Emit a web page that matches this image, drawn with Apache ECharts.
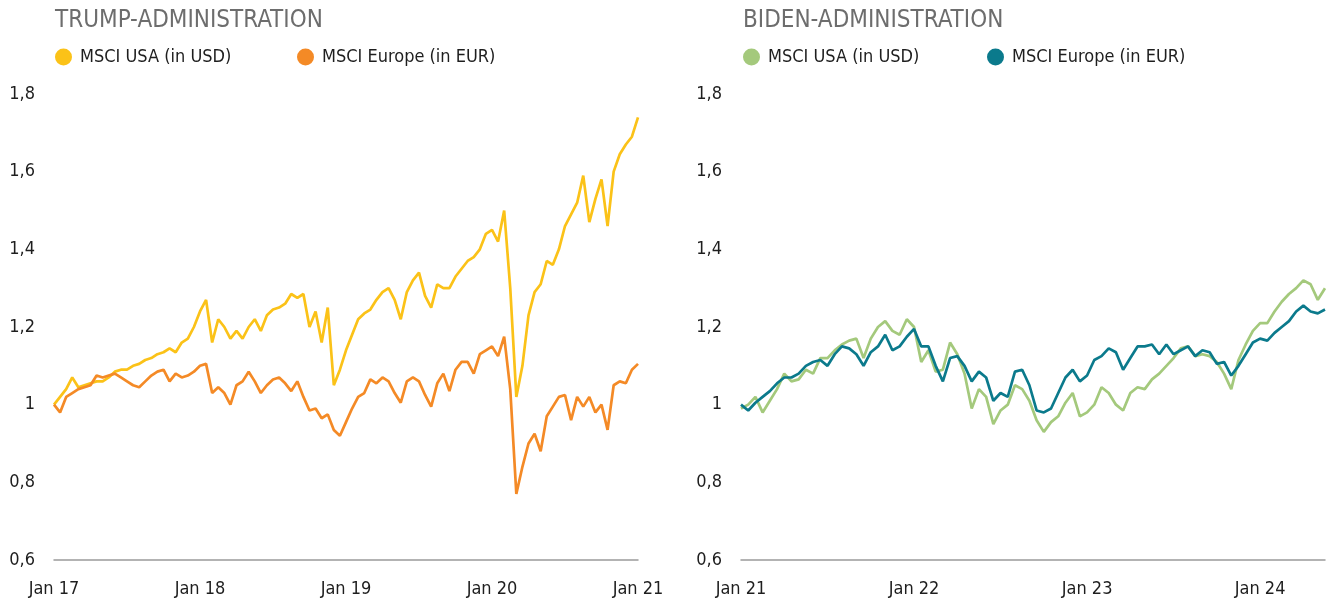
<!DOCTYPE html>
<html>
<head>
<meta charset="utf-8">
<script src="https://cdn.jsdelivr.net/npm/echarts@6/dist/echarts.min.js"></script>
<style>
  html, body { margin: 0; padding: 0; background: #fff; }
  #main { width: 1328px; height: 599px; }
</style>
</head>
<body>
<div id="main"></div>
<script>
// two values per month (semi-monthly), index 0 = January of start year
const trumpStart = 2017;
const trumpUsa = [
  1.00, 1.02, 1.04, 1.07, 1.045, 1.05, 1.055, 1.06, 1.06, 1.07, 1.085, 1.09,
  1.09, 1.10, 1.105, 1.115, 1.12, 1.13, 1.135, 1.145, 1.135, 1.16, 1.17, 1.20,
  1.24, 1.27, 1.16, 1.22, 1.20, 1.17, 1.19, 1.17, 1.20, 1.22, 1.19, 1.23,
  1.245, 1.25, 1.26, 1.285, 1.275, 1.285, 1.20, 1.24, 1.16, 1.25, 1.05, 1.09,
  1.14, 1.18, 1.22, 1.235, 1.245, 1.27, 1.29, 1.30, 1.27, 1.22, 1.29, 1.32,
  1.34, 1.28, 1.25, 1.31, 1.30, 1.30, 1.33, 1.35, 1.37, 1.38, 1.40, 1.44,
  1.45, 1.42, 1.50, 1.30, 1.02, 1.10, 1.23, 1.29, 1.31, 1.37, 1.36, 1.40,
  1.46, 1.49, 1.52, 1.59, 1.47, 1.53, 1.58, 1.46, 1.60, 1.645, 1.67, 1.69,
  1.74
];
const trumpEurope = [
  1.00, 0.98, 1.02, 1.03, 1.04, 1.045, 1.05, 1.075, 1.07, 1.075, 1.08, 1.07,
  1.06, 1.05, 1.045, 1.06, 1.075, 1.085, 1.09, 1.06, 1.08, 1.07, 1.075, 1.085,
  1.10, 1.105, 1.03, 1.045, 1.03, 1.00, 1.05, 1.06, 1.085, 1.06, 1.03, 1.05,
  1.065, 1.07, 1.055, 1.035, 1.06, 1.02, 0.985, 0.99, 0.965, 0.975, 0.935, 0.92,
  0.955, 0.99, 1.02, 1.03, 1.065, 1.055, 1.07, 1.06, 1.03, 1.005, 1.06, 1.07,
  1.06, 1.025, 0.995, 1.055, 1.08, 1.035, 1.09, 1.11, 1.11, 1.08, 1.13, 1.14,
  1.15, 1.125, 1.175, 1.04, 0.77, 0.84, 0.90, 0.925, 0.88, 0.97, 0.995, 1.02,
  1.025, 0.96, 1.02, 0.995, 1.02, 0.98, 1.00, 0.935, 1.05, 1.06, 1.055, 1.09,
  1.105
];
const bidenStart = 2021;
const bidenUsa = [
  0.99, 1.00, 1.02, 0.98, 1.01, 1.04, 1.08, 1.06, 1.065, 1.09, 1.08, 1.12,
  1.12, 1.14, 1.155, 1.165, 1.17, 1.12, 1.17, 1.20, 1.215, 1.19, 1.18, 1.22,
  1.20, 1.11, 1.14, 1.085, 1.09, 1.16, 1.13, 1.08, 0.99, 1.04, 1.02, 0.95,
  0.985, 1.00, 1.05, 1.04, 1.01, 0.96, 0.93, 0.955, 0.97, 1.005, 1.03, 0.97,
  0.98, 1.00, 1.045, 1.03, 1.00, 0.985, 1.03, 1.045, 1.04, 1.065, 1.08, 1.10,
  1.12, 1.145, 1.15, 1.125, 1.13, 1.125, 1.11, 1.08, 1.04, 1.115, 1.155, 1.19,
  1.21, 1.21, 1.24, 1.265, 1.285, 1.30, 1.32, 1.31, 1.27, 1.30
];
const bidenEurope = [
  1.00, 0.985, 1.005, 1.02, 1.035, 1.055, 1.07, 1.07, 1.08, 1.10, 1.11, 1.115,
  1.10, 1.13, 1.15, 1.145, 1.13, 1.10, 1.135, 1.15, 1.18, 1.14, 1.15, 1.175,
  1.195, 1.15, 1.15, 1.10, 1.06, 1.12, 1.125, 1.10, 1.06, 1.085, 1.07, 1.01,
  1.03, 1.02, 1.085, 1.09, 1.05, 0.985, 0.98, 0.99, 1.03, 1.07, 1.09, 1.06,
  1.075, 1.115, 1.125, 1.145, 1.135, 1.09, 1.12, 1.15, 1.15, 1.155, 1.13, 1.155,
  1.13, 1.14, 1.15, 1.125, 1.14, 1.135, 1.105, 1.11, 1.075, 1.10, 1.13, 1.16,
  1.17, 1.165, 1.185, 1.20, 1.215, 1.24, 1.255, 1.24, 1.235, 1.245
];
const yMin = 0.6, yMax = 1.8, yStep = 0.2;

const FONT = '"DejaVu Sans Condensed", "Liberation Sans Narrow", sans-serif';
const TEXT = '#1e1e1e';

function toPairs(start, arr) {
  return arr.map(function (v, i) { return [start + i / 24, v]; });
}
function yLabel(v) {
  let r = Math.round(v * 10) / 10;
  return r === 1 ? '1' : r.toFixed(1).replace('.', ',');
}
function xLabel(v) {
  return Number.isInteger(v) ? 'Jan ' + String(v).slice(2) : '';
}
function legendItem(name, label, left) {
  return {
    data: [name], left: left, top: 48, padding: 0, icon: 'circle',
    itemWidth: 17, itemHeight: 17, selectedMode: false,
    formatter: function () { return label; },
    textStyle: { fontFamily: FONT, fontSize: 18, color: TEXT, padding: [0, 0, 0, 3] }
  };
}
function xAxisOf(idx, min, max) {
  return {
    type: 'value', gridIndex: idx, min: min, max: max, interval: 1,
    axisLine: { show: true, lineStyle: { color: '#9b9b9b', width: 1.5 } },
    axisTick: { show: false }, splitLine: { show: false },
    axisLabel: { formatter: xLabel, margin: 20, fontFamily: FONT, fontSize: 18, color: TEXT,
      showMinLabel: true, showMaxLabel: true, hideOverlap: false }
  };
}
function yAxisOf(idx) {
  return {
    type: 'value', gridIndex: idx, min: yMin, max: yMax, interval: yStep,
    axisLine: { show: false }, axisTick: { show: false }, splitLine: { show: false },
    axisLabel: { formatter: yLabel, margin: 19, fontFamily: FONT, fontSize: 18, color: TEXT }
  };
}
function lineOf(name, data, color, idx, z) {
  return {
    name: name, type: 'line', data: data, xAxisIndex: idx, yAxisIndex: idx,
    showSymbol: false, symbol: 'none', z: z,
    lineStyle: { color: color, width: 2.7 }, itemStyle: { color: color }
  };
}

const YELLOW = '#fbc218', ORANGE = '#f48a26', GREEN = '#a4c97c', TEAL = '#0b7a8c';

let chart = echarts.init(document.getElementById('main'));
chart.setOption({
  animation: false,
  title: [
    { text: 'TRUMP-ADMINISTRATION', left: 55, top: 9, padding: 0,
      textStyle: { fontFamily: FONT, fontSize: 24, fontWeight: 'normal', color: '#6d6d6d' } },
    { text: 'BIDEN-ADMINISTRATION', left: 743, top: 9, padding: 0,
      textStyle: { fontFamily: FONT, fontSize: 24, fontWeight: 'normal', color: '#6d6d6d' } }
  ],
  legend: [
    legendItem('T-USA', 'MSCI USA (in USD)', 55),
    legendItem('T-EUR', 'MSCI Europe (in EUR)', 297),
    legendItem('B-USA', 'MSCI USA (in USD)', 743),
    legendItem('B-EUR', 'MSCI Europe (in EUR)', 987)
  ],
  grid: [
    { left: 54, right: 1328 - 638, top: 94, bottom: 39 },
    { left: 741, right: 3, top: 94, bottom: 39 }
  ],
  xAxis: [
    xAxisOf(0, trumpStart, trumpStart + (trumpUsa.length - 1) / 24),
    xAxisOf(1, bidenStart, bidenStart + (bidenUsa.length - 1) / 24)
  ],
  yAxis: [yAxisOf(0), yAxisOf(1)],
  series: [
    lineOf('T-USA', toPairs(trumpStart, trumpUsa), YELLOW, 0, 2),
    lineOf('T-EUR', toPairs(trumpStart, trumpEurope), ORANGE, 0, 3),
    lineOf('B-USA', toPairs(bidenStart, bidenUsa), GREEN, 1, 2),
    lineOf('B-EUR', toPairs(bidenStart, bidenEurope), TEAL, 1, 3)
  ]
});
</script>
</body>
</html>
